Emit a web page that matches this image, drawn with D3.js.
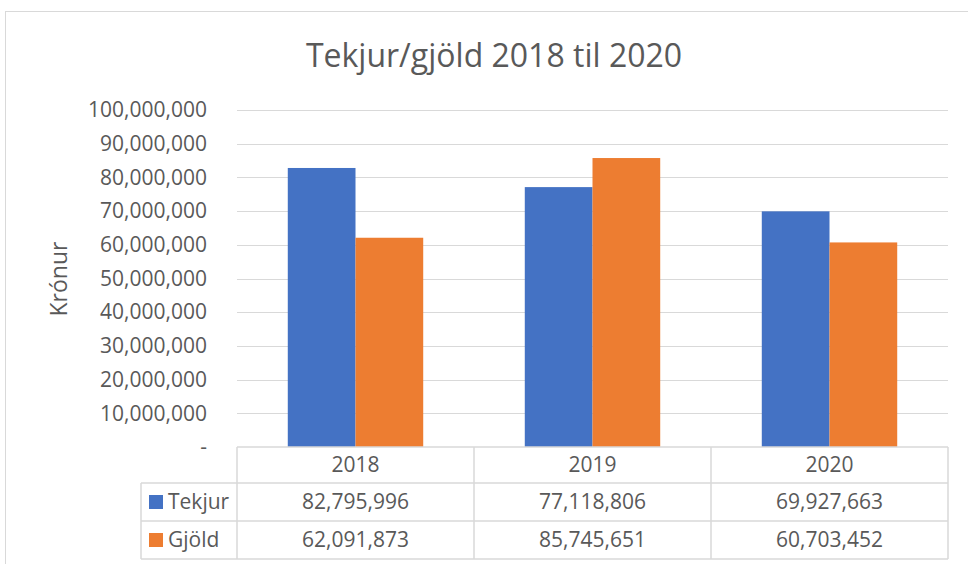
<!DOCTYPE html>
<html>
<head>
<meta charset="utf-8">
<script src="https://cdn.jsdelivr.net/npm/d3@7"></script>
<style>
  body { margin: 0; background: #fff; }
  text { font-family: "Open Sans", "Noto Sans", sans-serif; fill: #595959; }
</style>
</head>
<body>
<div id="graph"></div>
<script>
// chart data
var years = ["2018", "2019", "2020"]
var seriesNames = ["Tekjur", "Gjöld"]
var tekjur = [82795996, 77118806, 69927663]
var gjold = [62091873, 85745651, 60703452]
var yTicks = [0, 10000000, 20000000, 30000000, 40000000, 50000000, 60000000, 70000000, 80000000, 90000000, 100000000]
var colors = ["#4472C4", "#ED7D31"]

var width = 968, height = 564
var svg = d3.select("#graph").append("svg")
    .attr("width", width).attr("height", height)

var margin = {top: 110, left: 237}
var plotRight = 948
var plotBottom = 447
var fontSize = "21px"

// frame
svg.append("rect")
    .attr("x", 5.5).attr("y", 11.5)
    .attr("width", 1000).attr("height", 600)
    .attr("fill", "none").attr("stroke", "#d9d9d9")

svg.append("text")
    .attr("x", 494).attr("y", 67)
    .attr("text-anchor", "middle")
    .style("font-size", "32px")
    .text("Tekjur/gjöld 2018 til 2020")

var y = d3.scaleLinear().domain([0, 100000000]).range([plotBottom, margin.top])
var x0 = d3.scaleBand().domain(years).range([margin.left, plotRight])
var x1 = d3.scaleBand().domain(seriesNames).range([0, x0.bandwidth()]).paddingOuter(0.75)

// gridlines
svg.append("g").selectAll("line")
    .data(yTicks.filter(function(d) { return d > 0 }))
    .enter().append("line")
    .attr("x1", margin.left).attr("x2", plotRight)
    .attr("y1", function(d) { return Math.round(y(d)) + 0.5 })
    .attr("y2", function(d) { return Math.round(y(d)) + 0.5 })
    .attr("stroke", "#d9d9d9").attr("stroke-width", 1)

// y axis labels
var fmt = d3.format(",")
var yAxis = d3.axisLeft(y).tickValues(yTicks).tickSize(0).tickPadding(0)
    .tickFormat(function(d) { return d === 0 ? "-" : fmt(d) })
var gy = svg.append("g").attr("transform", "translate(207,0)").call(yAxis)
gy.select(".domain").remove()
gy.selectAll("text")
    .style("font-size", fontSize)
    .attr("fill", "#595959")
    .style("font-family", '"Open Sans", "Noto Sans", sans-serif')

svg.append("text")
    .attr("transform", "translate(67,279) rotate(-90)")
    .attr("text-anchor", "middle")
    .style("font-size", "23px")
    .text("Krónur")

// bars
var rows = years.map(function(yr, i) {
    return {year: yr, values: [tekjur[i], gjold[i]]}
})
var groups = svg.append("g").selectAll("g")
    .data(rows).enter().append("g")
    .attr("transform", function(d) { return "translate(" + x0(d.year) + ",0)" })
groups.selectAll("rect")
    .data(function(d) { return d.values.map(function(v, j) { return {name: seriesNames[j], value: v, idx: j} }) })
    .enter().append("rect")
    .attr("x", function(d) { return x1(d.name) })
    .attr("width", x1.bandwidth())
    .attr("y", function(d) { return y(d.value) })
    .attr("height", function(d) { return plotBottom - y(d.value) })
    .attr("fill", function(d) { return colors[d.idx] })

// data table
var rowY = [447, 483, 521, 559]
var tableLeft = 141
var table = svg.append("g").attr("stroke", "#d9d9d9").attr("stroke-width", 1.5)
table.append("line").attr("x1", margin.left).attr("x2", plotRight).attr("y1", rowY[0]).attr("y2", rowY[0])
rowY.slice(1).forEach(function(ry) {
    table.append("line").attr("x1", tableLeft).attr("x2", plotRight).attr("y1", ry).attr("y2", ry)
})
table.append("line").attr("x1", tableLeft).attr("x2", tableLeft).attr("y1", rowY[1]).attr("y2", rowY[3])
years.forEach(function(yr) {
    table.append("line").attr("x1", x0(yr)).attr("x2", x0(yr)).attr("y1", rowY[0]).attr("y2", rowY[3])
})
table.append("line").attr("x1", plotRight).attr("x2", plotRight).attr("y1", rowY[0]).attr("y2", rowY[3])

svg.append("g").selectAll("text").data(years).enter().append("text")
    .attr("x", function(d) { return x0(d) + x0.bandwidth() / 2 })
    .attr("y", (rowY[0] + rowY[1]) / 2)
    .attr("dy", "0.35em")
    .attr("text-anchor", "middle")
    .style("font-size", fontSize)
    .text(function(d) { return d })

var seriesData = [tekjur, gjold]
seriesNames.forEach(function(name, j) {
    var cy = (rowY[j + 1] + rowY[j + 2]) / 2
    svg.append("rect")
        .attr("x", 149).attr("y", cy - 7)
        .attr("width", 14).attr("height", 14)
        .attr("fill", colors[j])
    svg.append("text")
        .attr("x", 168).attr("y", cy).attr("dy", "0.35em")
        .style("font-size", fontSize)
        .text(name)
    svg.append("g").selectAll("text").data(seriesData[j]).enter().append("text")
        .attr("x", function(d, i) { return x0(years[i]) + x0.bandwidth() / 2 })
        .attr("y", cy).attr("dy", "0.35em")
        .attr("text-anchor", "middle")
        .style("font-size", fontSize)
        .text(function(d) { return fmt(d) })
})
</script>
</body>
</html>
